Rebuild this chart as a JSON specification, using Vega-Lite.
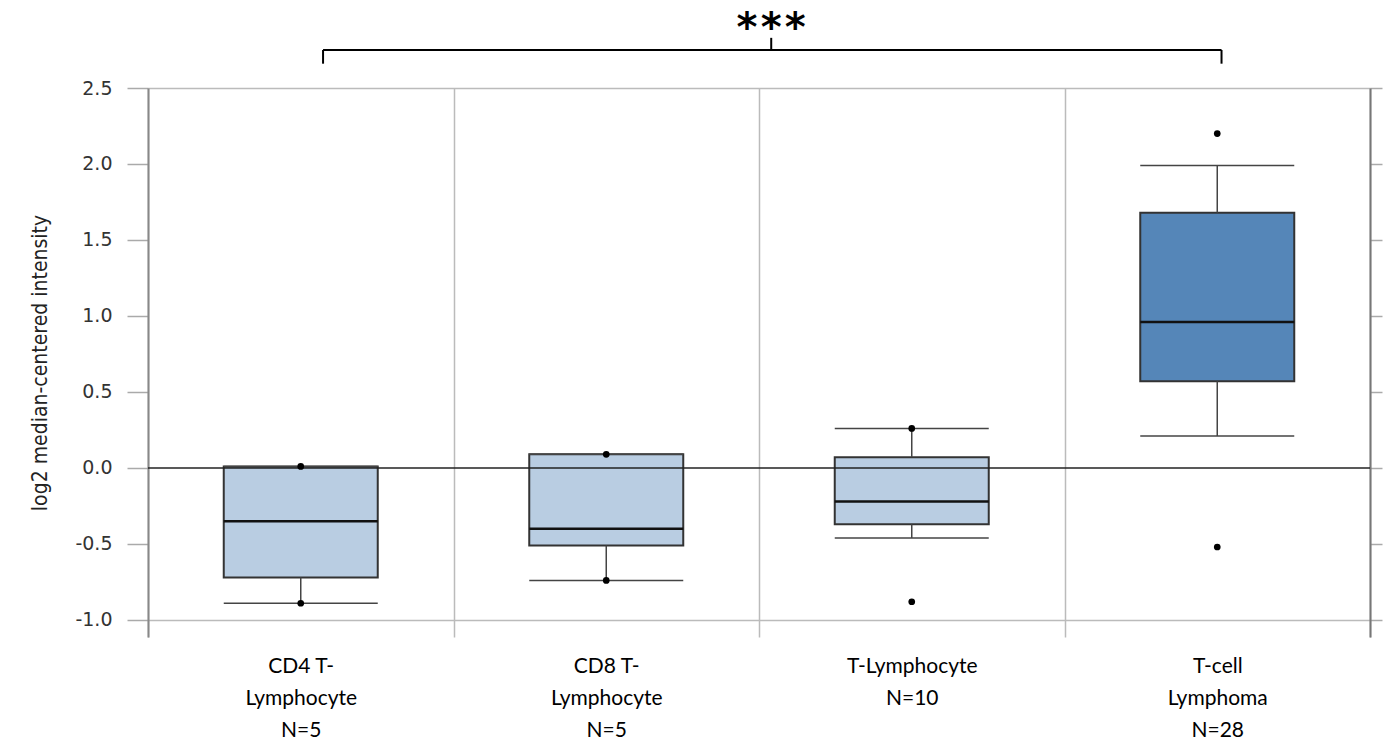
{
  "$schema": "https://vega.github.io/schema/vega-lite/v6.json",
  "width": 1222,
  "height": 549,
  "autosize": "none",
  "padding": {"left": 148, "top": 88, "right": 26, "bottom": 107},
  "background": "white",
  "config": {"view": {"stroke": null}},
  "datasets": {
    "stats": [
      {"group": "CD4 T-Lymphocyte", "lower": -0.89, "q1": -0.72, "median": -0.35, "q3": 0.01, "upper": 0.01},
      {"group": "CD8 T-Lymphocyte", "lower": -0.74, "q1": -0.51, "median": -0.40, "q3": 0.09, "upper": 0.09},
      {"group": "T-Lymphocyte", "lower": -0.46, "q1": -0.37, "median": -0.22, "q3": 0.07, "upper": 0.26},
      {"group": "T-cell Lymphoma", "lower": 0.21, "q1": 0.57, "median": 0.96, "q3": 1.68, "upper": 1.99}
    ],
    "points": [
      {"group": "CD4 T-Lymphocyte", "value": 0.01},
      {"group": "CD4 T-Lymphocyte", "value": -0.89},
      {"group": "CD8 T-Lymphocyte", "value": 0.09},
      {"group": "CD8 T-Lymphocyte", "value": -0.74},
      {"group": "T-Lymphocyte", "value": 0.26},
      {"group": "T-Lymphocyte", "value": -0.88},
      {"group": "T-cell Lymphoma", "value": 2.2},
      {"group": "T-cell Lymphoma", "value": -0.52}
    ]
  },
  "encoding": {
    "x": {
      "field": "group",
      "type": "nominal",
      "sort": ["CD4 T-Lymphocyte", "CD8 T-Lymphocyte", "T-Lymphocyte", "T-cell Lymphoma"],
      "scale": {
        "type": "band",
        "domain": ["CD4 T-Lymphocyte", "CD8 T-Lymphocyte", "T-Lymphocyte", "T-cell Lymphoma"],
        "paddingInner": 0,
        "paddingOuter": 0
      },
      "title": null,
      "axis": {
        "tickBand": "extent",
        "ticks": false,
        "domain": false,
        "grid": true,
        "gridColor": "#bbbbbb",
        "gridWidth": 1.5,
        "labelAngle": 0,
        "labelExpr": "datum.label == 'CD4 T-Lymphocyte' ? ['CD4 T-', 'Lymphocyte', 'N=5'] : datum.label == 'CD8 T-Lymphocyte' ? ['CD8 T-', 'Lymphocyte', 'N=5'] : datum.label == 'T-Lymphocyte' ? ['T-Lymphocyte', 'N=10'] : datum.label == 'T-cell Lymphoma' ? ['T-cell', 'Lymphoma', 'N=28'] : ''",
        "labelFont": "Lato",
        "labelFontSize": 21,
        "labelColor": "#000000",
        "labelPadding": 18,
        "labelLineHeight": 32,
        "labelBaseline": "top"
      }
    }
  },
  "layer": [
    {
      "data": {"name": "stats"},
      "mark": {"type": "bar", "size": 154, "stroke": "#333333", "strokeWidth": 2},
      "encoding": {
        "y": {
          "field": "q1",
          "type": "quantitative",
          "scale": {"domain": [-1.112, 2.5], "nice": false, "zero": false},
          "axis": {
            "values": [-1, -0.5, 0, 0.5, 1, 1.5, 2, 2.5],
            "labelExpr": "replace(format(datum.value, '.1f'), '−', '-')",
            "title": "log2 median-centered intensity",
            "titleFont": "DejaVu Sans Condensed",
            "titleFontSize": 21,
            "titleFontWeight": "normal",
            "titleColor": "#222222",
            "titlePadding": 24,
            "labelFont": "DejaVu Sans",
            "labelFontSize": 19,
            "labelColor": "#333333",
            "labelPadding": 15,
            "tickSize": 21,
            "tickColor": "#aaaaaa",
            "tickWidth": 1.5,
            "domainColor": "#888888",
            "domainWidth": 2,
            "grid": true,
            "gridColor": "#bbbbbb",
            "gridWidth": 1.5,
            "gridOpacity": {"condition": {"test": "datum.value == 2.5 || datum.value == -1", "value": 1}, "value": 0}
          }
        },
        "y2": {"field": "q3"},
        "color": {
          "field": "group",
          "type": "nominal",
          "scale": {
            "domain": ["CD4 T-Lymphocyte", "CD8 T-Lymphocyte", "T-Lymphocyte", "T-cell Lymphoma"],
            "range": ["#b9cde2", "#b9cde2", "#b9cde2", "#5586b8"]
          },
          "legend": null
        }
      }
    },
    {
      "data": {"name": "stats"},
      "mark": {"type": "rule", "color": "#444444", "strokeWidth": 1.5},
      "encoding": {
        "y": {"field": "q3", "type": "quantitative", "axis": null},
        "y2": {"field": "upper"}
      }
    },
    {
      "data": {"name": "stats"},
      "mark": {"type": "rule", "color": "#444444", "strokeWidth": 1.5},
      "encoding": {
        "y": {"field": "lower", "type": "quantitative", "axis": null},
        "y2": {"field": "q1"}
      }
    },
    {
      "data": {"name": "stats"},
      "mark": {"type": "tick", "size": 154, "thickness": 1.5, "color": "#444444", "opacity": 1},
      "encoding": {
        "y": {"field": "upper", "type": "quantitative", "axis": null}
      }
    },
    {
      "data": {"name": "stats"},
      "mark": {"type": "tick", "size": 154, "thickness": 1.5, "color": "#444444", "opacity": 1},
      "encoding": {
        "y": {"field": "lower", "type": "quantitative", "axis": null}
      }
    },
    {
      "data": {"name": "stats"},
      "mark": {"type": "tick", "size": 154, "thickness": 2.5, "color": "#111111", "opacity": 1},
      "encoding": {
        "y": {"field": "median", "type": "quantitative", "axis": null}
      }
    },
    {
      "data": {"values": [{}]},
      "mark": {"type": "rule", "color": "#222222", "strokeWidth": 1.3},
      "encoding": {
        "x": {"value": 0},
        "x2": {"value": 1222},
        "y": {
          "datum": 0,
          "type": "quantitative",
          "axis": {
            "orient": "right",
            "values": [-1, -0.5, 0, 0.5, 1, 1.5, 2, 2.5],
            "labels": false,
            "title": null,
            "tickSize": 12,
            "tickColor": "#aaaaaa",
            "tickWidth": 1.5,
            "domainColor": "#777777",
            "domainWidth": 2,
            "grid": false
          }
        }
      }
    },
    {
      "data": {"name": "points"},
      "mark": {"type": "circle", "size": 45, "color": "#000000", "opacity": 1},
      "encoding": {
        "y": {"field": "value", "type": "quantitative", "axis": null}
      }
    },
    {
      "data": {"values": [{}]},
      "mark": {"type": "rule", "color": "#000000", "strokeWidth": 2},
      "encoding": {
        "x": {"datum": "CD4 T-Lymphocyte", "type": "nominal", "bandPosition": 0.573},
        "x2": {"datum": "T-cell Lymphoma", "bandPosition": 0.514},
        "y": {"datum": 2.75, "type": "quantitative", "axis": null}
      }
    },
    {
      "data": {"values": [{}]},
      "mark": {"type": "rule", "color": "#000000", "strokeWidth": 2},
      "encoding": {
        "x": {"datum": "CD4 T-Lymphocyte", "type": "nominal", "bandPosition": 0.573},
        "y": {"datum": 2.66, "type": "quantitative", "axis": null},
        "y2": {"datum": 2.75}
      }
    },
    {
      "data": {"values": [{}]},
      "mark": {"type": "rule", "color": "#000000", "strokeWidth": 2},
      "encoding": {
        "x": {"datum": "T-cell Lymphoma", "type": "nominal", "bandPosition": 0.514},
        "y": {"datum": 2.66, "type": "quantitative", "axis": null},
        "y2": {"datum": 2.75}
      }
    },
    {
      "data": {"values": [{}]},
      "mark": {"type": "rule", "color": "#000000", "strokeWidth": 2},
      "encoding": {
        "x": {"datum": "T-Lymphocyte", "type": "nominal", "bandPosition": 0.04},
        "y": {"datum": 2.75, "type": "quantitative", "axis": null},
        "y2": {"datum": 2.83}
      }
    },
    {
      "data": {"values": [{"label": "***"}]},
      "mark": {"type": "text", "font": "DejaVu Sans Mono", "fontSize": 40, "fontWeight": "bold", "baseline": "alphabetic", "align": "center", "color": "#000000"},
      "encoding": {
        "x": {"datum": "T-Lymphocyte", "type": "nominal", "bandPosition": 0.04},
        "y": {"datum": 2.81, "type": "quantitative", "axis": null},
        "text": {"field": "label"}
      }
    }
  ],
  "resolve": {"axis": {"y": "independent"}}
}
